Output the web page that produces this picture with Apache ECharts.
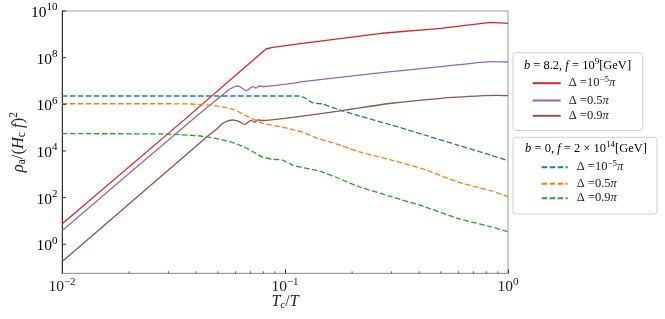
<!DOCTYPE html>
<html><head><meta charset="utf-8">
<script src="https://cdn.jsdelivr.net/npm/echarts@6/dist/echarts.min.js"></script>
<style>html,body{margin:0;padding:0;background:#fff}#c{width:665px;height:319px}</style>
</head><body><div id="c"></div>
<script>
const SERIF = "'Liberation Serif', 'DejaVu Serif', serif";

// ---- data (x = Tc/T, y = rho_a/(H_c f)^2) ----
const redX = [0.01, 0.0352, 0.0822, 0.088, 0.1197, 0.271, 0.501, 0.659, 0.836, 1];
const redY = [7.4, 2.1e5, 2.35e8, 2.78e8, 4.1e8, 1.11e9, 1.81e9, 2.5e9, 3.28e9, 2.97e9];

const purpleX = [0.01, 0.0383, 0.0527, 0.0565, 0.059, 0.0615, 0.064, 0.067, 0.0717, 0.0742, 0.0768, 0.0794, 0.108, 0.1197, 0.271, 0.501, 0.755, 0.862, 1];
const purpleY = [3.83, 2.13e5, 2.63e6, 4.41e6, 5.52e6, 6.1e6, 5.0e6, 3.84e6, 5.69e6, 5.0e6, 6.1e6, 5.8e6, 7.9e6, 9.3e6, 2.26e7, 4.1e7, 6.3e7, 6.7e7, 6.5e7];

const brownX = [0.01, 0.0447, 0.0493, 0.0527, 0.0555, 0.0584, 0.0621, 0.0659, 0.0705, 0.073, 0.0755, 0.0794, 0.108, 0.18, 0.3, 0.501, 0.778, 0.898, 1];
const brownY = [0.18, 4.09e4, 8.5e4, 1.54e5, 1.93e5, 2.13e5, 1.84e5, 1.39e5, 2.07e5, 1.7e5, 2.13e5, 2.02e5, 2.78e5, 5.33e5, 1.11e6, 1.81e6, 2.34e6, 2.44e6, 2.34e6];

const blueX = [0.01, 0.1156, 0.1237, 0.1325, 0.1468, 0.1626, 0.18, 0.2137, 0.3, 0.4224, 0.594, 0.836, 1];
const blueY = [2.27e6, 2.27e6, 1.81e6, 1.17e6, 1.03e6, 7.45e5, 5.33e5, 3.25e5, 1.3e5, 4.84e4, 1.8e4, 6.7e3, 3.83e3];

const orangeX = [0.01, 0.0258, 0.0375, 0.0493, 0.0584, 0.0693, 0.0794, 0.0942, 0.108, 0.1237, 0.1394, 0.1572, 0.18, 0.2137, 0.3, 0.4224, 0.594, 0.836, 1];
const orangeY = [1.06e6, 1.06e6, 1.03e6, 8.5e5, 6.0e5, 2.78e5, 1.54e5, 1.12e5, 8.3e4, 5.7e4, 3.5e4, 2.5e4, 1.68e4, 9.3e3, 4.1e3, 1.61e3, 470, 198, 110];

const greenX = [0.01, 0.0277, 0.0417, 0.0512, 0.0626, 0.0717, 0.0794, 0.088, 0.0975, 0.108, 0.1196, 0.1419, 0.1682, 0.2137, 0.3, 0.4224, 0.594, 0.836, 1];
const greenY = [5.5e4, 5.35e4, 4.39e4, 3.16e4, 1.8e4, 9.5e3, 5.5e3, 4.4e3, 4.1e3, 2.5e3, 1.96e3, 1.39e3, 767, 300, 110, 40.9, 13.0, 5.7, 3.47];

const legendLabels = {
  A1: '{n|Δ =10}{s|−5}{i|π}', A2: '{n|Δ =0.5}{i|π}', A3: '{n|Δ =0.9}{i|π}',
  B1: '{n|Δ =10}{s|−5}{i|π}', B2: '{n|Δ =0.5}{i|π}', B3: '{n|Δ =0.9}{i|π}'
};
const legendTitle1 = '{i|b}{n| = 8.2, }{i|f}{n| = 10}{s|9}{n|[GeV]}';
const legendTitle2 = '{i|b}{n| = 0, }{i|f}{n| = 2 × 10}{s|14}{n|[GeV]}';

// axis decoration tick positions
const xMinorTicks = [0.02,0.03,0.04,0.05,0.06,0.07,0.08,0.09,0.2,0.3,0.4,0.5,0.6,0.7,0.8,0.9];
const yMajorTicks = [1, 1e2, 1e4, 1e6, 1e8, 1e10];

const xMin = 0.01, xMax = 1, yMin = 0.0571, yMax = 1e10;

const zip = (xs, ys) => xs.map((x, i) => [x, ys[i]]);

function expLabel(e) {
  return '{b|10}{s|' + (e < 0 ? '−' + (-e) : e) + '}';
}
function powLabel(v) {
  const lg = Math.log10(v);
  const e = Math.round(lg);
  if (Math.abs(lg - e) > 1e-6) return '';
  return expLabel(e);
}
const tickRich = {
  b: { fontFamily: SERIF, fontSize: 15.5, color: '#222', padding: [4, 0, 0, 0] },
  s: { fontFamily: SERIF, fontSize: 11, color: '#222', padding: [0, 0, 7, 0] }
};
const legRich = {
  n: { fontFamily: SERIF, fontSize: 12.5, color: '#222', lineHeight: 16 },
  i: { fontFamily: SERIF, fontSize: 12.5, fontStyle: 'italic', color: '#222', lineHeight: 16 },
  s: { fontFamily: SERIF, fontSize: 9, color: '#222', padding: [0, 0, 8, 0], lineHeight: 16 }
};

function lineSeries(name, xs, ys, color, dashed, smooth) {
  return {
    name, type: 'line', data: zip(xs, ys), showSymbol: false, symbol: 'none',
    smooth: smooth, clip: true,
    lineStyle: { color, width: 1.3, type: dashed ? [5.5, 2.5] : 'solid' },
    itemStyle: { color },
    emphasis: { disabled: true }
  };
}

const chart = echarts.init(document.getElementById('c'), null, { renderer: 'canvas' });
chart.setOption({
  animation: false,
  backgroundColor: '#fff',
  grid: { left: 57.5, top: 11, width: 450.5, height: 262.3, show: true, borderColor: '#999', borderWidth: 1, containLabel: false },
  xAxis: {
    type: 'log', logBase: 10, min: xMin, max: xMax,
    axisLine: { show: true, lineStyle: { color: '#999', width: 1 } },
    axisTick: { show: true, inside: true, length: 4, lineStyle: { color: '#333' } },
    splitLine: { show: false },
    axisLabel: { formatter: powLabel, rich: tickRich, margin: 2, color: '#222' },
    name: '{i|T}{sub|c}{n|/}{i|T}', nameLocation: 'middle', nameGap: 20, nameMoveOverlap: false,
    nameTextStyle: {
      rich: {
        i: { fontFamily: SERIF, fontSize: 16, fontStyle: 'italic', color: '#222' },
        n: { fontFamily: SERIF, fontSize: 16, color: '#222' },
        sub: { fontFamily: SERIF, fontSize: 11, color: '#222', padding: [6, 0, 0, 0] }
      }
    }
  },
  yAxis: {
    type: 'log', logBase: 10, min: yMin, max: yMax,
    axisLine: { show: true, lineStyle: { color: '#333', width: 1 } },
    axisTick: { show: false },
    splitLine: { show: false },
    axisLabel: { show: false },
    name: '{i|ρ}{sub|a}{n|/(}{i|H}{sub|c}{i| f}{n|)}{sup|2}', nameLocation: 'middle', nameGap: 33, nameRotate: 90,
    nameTextStyle: {
      rich: {
        i: { fontFamily: SERIF, fontSize: 16.5, fontStyle: 'italic', color: '#222' },
        n: { fontFamily: SERIF, fontSize: 16.5, color: '#222' },
        sub: { fontFamily: SERIF, fontSize: 11.5, color: '#222', padding: [6, 0, 0, 0] },
        sup: { fontFamily: SERIF, fontSize: 11.5, color: '#222', padding: [0, 0, 9, 0] }
      }
    }
  },
  legend: [
    {
      data: ['A1', 'A2', 'A3'], orient: 'vertical', left: 531.7, top: 74.7, padding: 0,
      itemWidth: 28, itemHeight: 10, itemGap: 2.3,
      itemStyle: { opacity: 0 },
      formatter: (n) => legendLabels[n],
      textStyle: { rich: legRich, padding: [0, 0, 0, 3] },
      selectedMode: false
    },
    {
      data: ['B1', 'B2', 'B3'], orient: 'vertical', left: 540.7, top: 158.7, padding: 0,
      itemWidth: 26, itemHeight: 10, itemGap: 1.5,
      itemStyle: { opacity: 0 },
      formatter: (n) => legendLabels[n],
      textStyle: { rich: legRich, padding: [0, 0, 0, 4] },
      selectedMode: false
    }
  ],
  graphic: [
    { type: 'rect', z: -1, shape: { x: 513, y: 52.7, width: 129.7, height: 77.8, r: 3 }, style: { fill: '#fff', stroke: '#d0d0d0', lineWidth: 1 } },
    { type: 'rect', z: -1, shape: { x: 513, y: 137.3, width: 144, height: 76.7, r: 3 }, style: { fill: '#fff', stroke: '#d0d0d0', lineWidth: 1 } },
    { type: 'text', x: 577.5, y: 65.5, style: { text: legendTitle1, rich: legRich, align: 'center', verticalAlign: 'middle' } },
    { type: 'text', x: 586, y: 149, style: { text: legendTitle2, rich: legRich, align: 'center', verticalAlign: 'middle' } }
  ],
  series: [
    lineSeries('A1', redX, redY, '#d62728', false, false),
    lineSeries('A2', purpleX, purpleY, '#9467bd', false, 0.25),
    lineSeries('A3', brownX, brownY, '#8c564b', false, 0.25),
    lineSeries('B1', blueX, blueY, '#1f77b4', true, 0.25),
    lineSeries('B2', orangeX, orangeY, '#ff7f0e', true, 0.25),
    lineSeries('B3', greenX, greenY, '#2ca02c', true, 0.25),
    {
      type: 'custom', name: 'xMinorTicks', silent: true, clip: false, z: 5,
      data: xMinorTicks.map(v => [v, yMin]),
      encode: { x: 0, y: 1 },
      renderItem: (params, api) => {
        const p = api.coord([api.value(0), api.value(1)]);
        return { type: 'line', shape: { x1: p[0], y1: p[1], x2: p[0], y2: p[1] - 2 }, style: { stroke: '#333', lineWidth: 0.8 } };
      }
    },
    {
      type: 'custom', name: 'yTicks', silent: true, clip: false, z: 5,
      data: yMajorTicks.map(v => [xMin, v]),
      encode: { x: 0, y: 1 },
      renderItem: (params, api) => {
        const p = api.coord([api.value(0), api.value(1)]);
        const e = Math.round(Math.log10(api.value(1)));
        return {
          type: 'group',
          children: [
            { type: 'line', shape: { x1: p[0], y1: p[1], x2: p[0] + 4, y2: p[1] }, style: { stroke: '#333', lineWidth: 1 } },
            { type: 'text', x: p[0] - 4.5, y: p[1], style: { text: expLabel(e), rich: tickRich, align: 'right', verticalAlign: 'middle' } }
          ]
        };
      }
    }
  ]
});
</script></body></html>
